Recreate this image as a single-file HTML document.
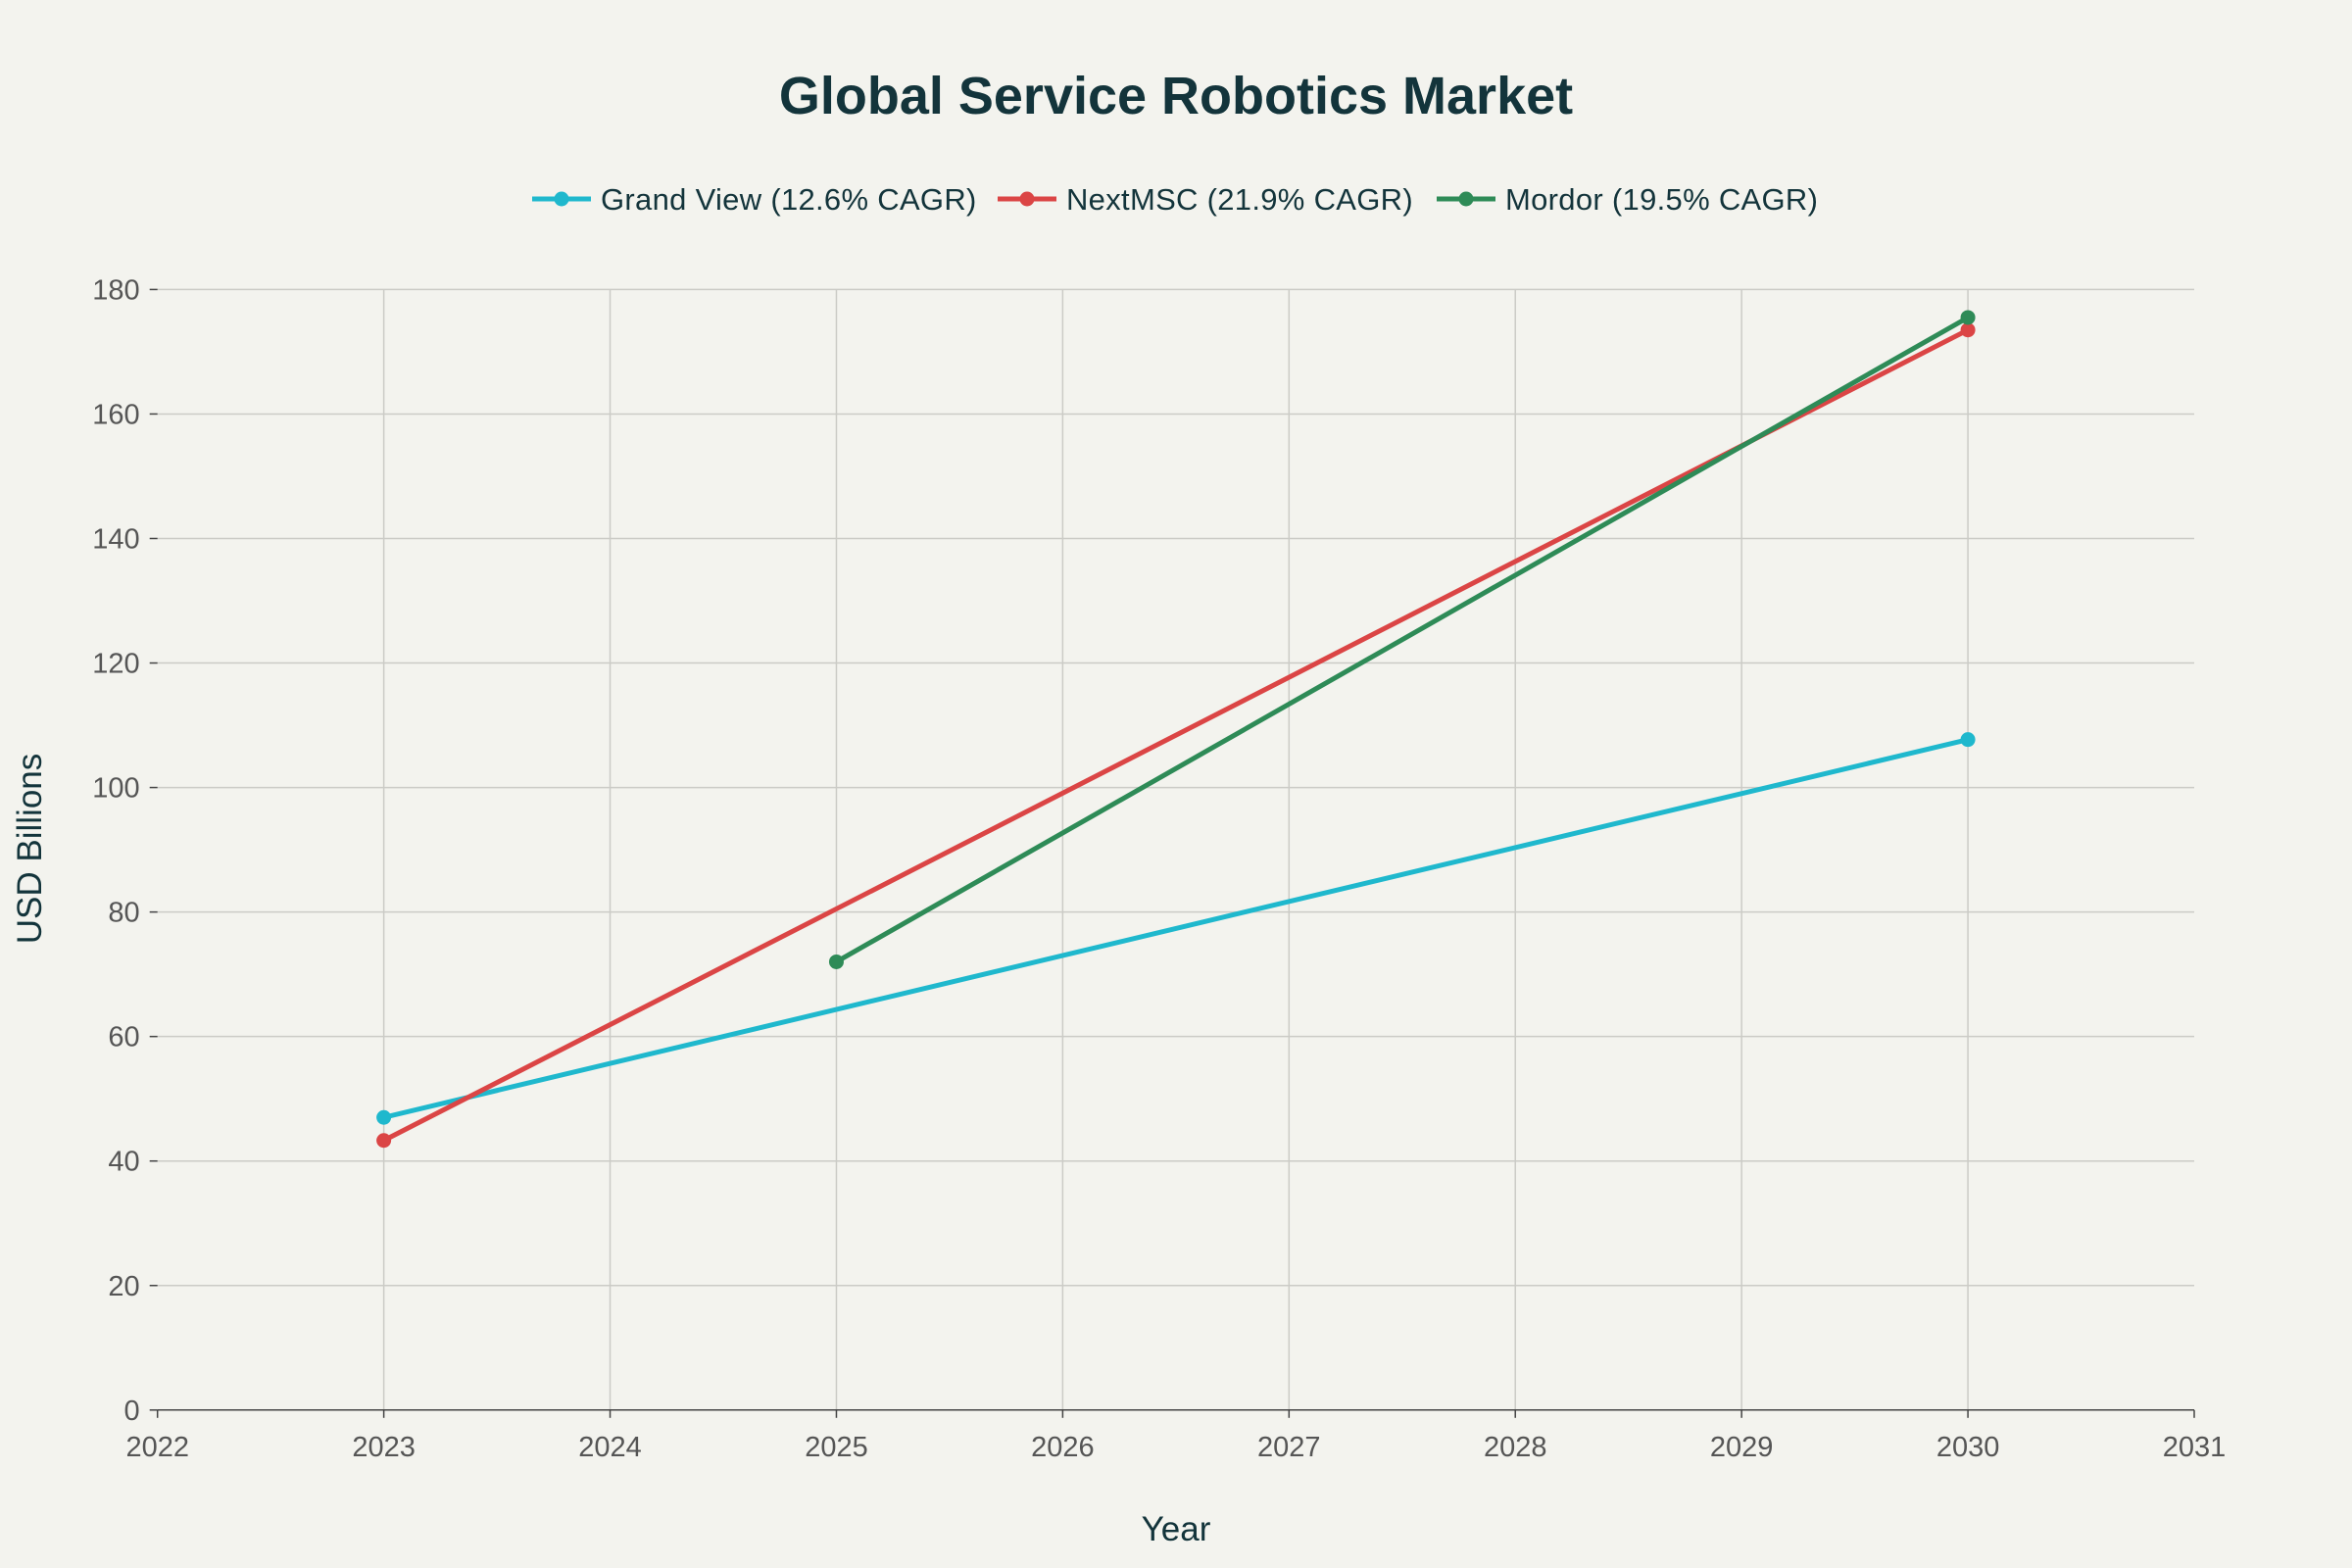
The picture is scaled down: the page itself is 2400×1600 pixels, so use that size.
<!DOCTYPE html>
<html><head><meta charset="utf-8"><style>
html,body{margin:0;padding:0;background:#f3f3ee;}
svg{display:block;font-family:"Liberation Sans",sans-serif;}
</style></head><body>
<svg id="chart" width="2400" height="1600" viewBox="0 0 2400 1600" xmlns="http://www.w3.org/2000/svg">
<rect width="2400" height="1600" fill="#f3f3ee"/>
<text x="1200" y="116" text-anchor="middle" font-size="54" font-weight="bold" fill="#13343b">Global Service Robotics Market</text>
<g id="legend"></g>
<g id="grid"></g>
<g id="axes"></g>
<g id="series"></g>
<text x="1200" y="1572" text-anchor="middle" font-size="35" fill="#13343b">Year</text>
<text x="0" y="0" transform="translate(42,866) rotate(-90)" text-anchor="middle" font-size="35" fill="#13343b">USD Billions</text>
</svg>
<script>
const xTicks = [2022,2023,2024,2025,2026,2027,2028,2029,2030,2031];
const yTicks = [0,20,40,60,80,100,120,140,160,180];
const seriesNames = ["Grand View (12.6% CAGR)","NextMSC (21.9% CAGR)","Mordor (19.5% CAGR)"];
const seriesColors = ["#1fb8cd","#db4545","#2e8b57"];
const grandViewYears = [2023,2030];
const grandViewValues = [47.0,107.7];
const nextMscYears = [2023,2030];
const nextMscValues = [43.3,173.5];
const mordorYears = [2025,2030];
const mordorValues = [72.0,175.5];

const NS="http://www.w3.org/2000/svg";
const X0=160.7,X1=2239,Y0=1438.8,Y1=295.4;
function xs(v){return X0+(v-2022)/(2031-2022)*(X1-X0);}
function ys(v){return Y0-(v-0)/(180-0)*(Y0-Y1);}
function mk(tag,attrs,parent){const e=document.createElementNS(NS,tag);for(const k in attrs)e.setAttribute(k,attrs[k]);parent.appendChild(e);return e;}
const grid=document.getElementById('grid'),axes=document.getElementById('axes'),ser=document.getElementById('series'),leg=document.getElementById('legend');
xTicks.forEach(t=>{
  if(t>2022 && t<2031){const l=mk('line',{x1:xs(t),x2:xs(t),y1:Y1,y2:Y0,stroke:'#cbcbc6','stroke-width':1.5},grid);
  
  }
  const tk=mk('line',{x1:xs(t),x2:xs(t),y1:Y0,y2:Y0+8,stroke:'#444','stroke-width':1.5},axes);
  
  
  const tx=mk('text',{x:xs(t),y:Y0+47,'text-anchor':'middle','font-size':29,fill:'#555'},axes);
  tx.textContent=t;
  
  
});
yTicks.forEach(t=>{
  if(t>0){const l=mk('line',{x1:X0,x2:X1,y1:ys(t),y2:ys(t),stroke:'#cbcbc6','stroke-width':1.5},grid);
  
  }
  const tk=mk('line',{x1:X0-8,x2:X0,y1:ys(t),y2:ys(t),stroke:'#444','stroke-width':1.5},axes);
  
  
  const tx=mk('text',{x:X0-18,y:ys(t)+10,'text-anchor':'end','font-size':29,fill:'#555'},axes);
  tx.textContent=t;
  
  
});
const xa=mk('line',{x1:X0,x2:X1,y1:Y0,y2:Y0,stroke:'#444','stroke-width':1.5},axes);


const data=[[grandViewYears,grandViewValues],[nextMscYears,nextMscValues],[mordorYears,mordorValues]];
const sKeys=['grand-view','nextmsc','mordor'];
data.forEach((d,i)=>{
  const pts=d[0].map((x,j)=>xs(x)+','+ys(d[1][j])).join(' ');
  const pl=mk('polyline',{points:pts,fill:'none',stroke:seriesColors[i],'stroke-width':5},ser);
  
  
  d[0].forEach((x,j)=>{
    const c=mk('circle',{cx:xs(x),cy:ys(d[1][j]),r:7.5,fill:seriesColors[i]},ser);
    
    
  });
});
const legX=[543,1018,1466];
seriesNames.forEach((n,i)=>{
  const g=mk('g',{},leg);
  
  
  mk('line',{x1:legX[i],x2:legX[i]+60,y1:203,y2:203,stroke:seriesColors[i],'stroke-width':5},g);
  mk('circle',{cx:legX[i]+30,cy:203,r:7.5,fill:seriesColors[i]},g);
  const t=mk('text',{x:legX[i]+70,y:214,'font-size':31,fill:'#13343b','letter-spacing':'0.3'},g);
  t.textContent=n;
});
</script>
</body></html>
